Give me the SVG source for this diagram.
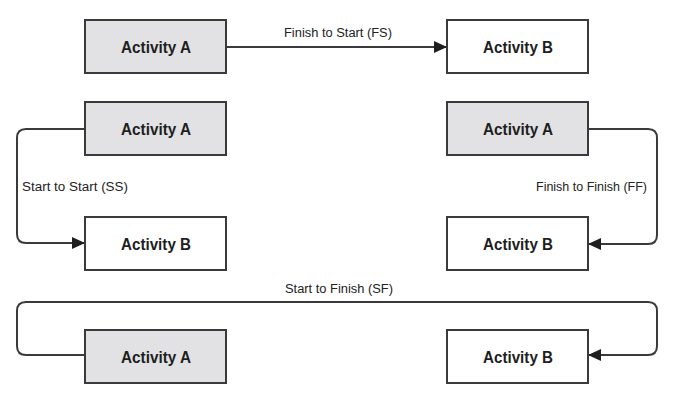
<svg xmlns="http://www.w3.org/2000/svg" width="686" height="404" viewBox="0 0 686 404">
<style>
.box{stroke:#3a3a3a;stroke-width:2}
.a{fill:#e2e2e4}
.b{fill:#ffffff}
.t{font-family:"Liberation Sans Narrow","Liberation Sans",Arial,sans-serif;font-weight:bold;font-size:17px;fill:#1e1e1e;text-anchor:middle}
.lbl{font-family:"Liberation Sans Narrow","Liberation Sans",Arial,sans-serif;font-size:12.5px;fill:#222}
.c{fill:none;stroke:#3a3a3a;stroke-width:2}
</style>
<defs>
<marker id="arr" markerUnits="userSpaceOnUse" markerWidth="14" markerHeight="13" refX="13" refY="6.5" orient="auto">
<path d="M0,0.5 L13,6.5 L0,12.5 z" fill="#1e1e1e"/>
</marker>
</defs>
<rect width="686" height="404" fill="#fff"/>
<g id="connectors">
<path class="c" d="M226,47 H447" marker-end="url(#arr)"/>
<path class="c" d="M85,129 H26 Q17,129 17,138 V234 Q17,243 26,243 H85" marker-end="url(#arr)"/>
<path class="c" d="M588,129 H648 Q657,129 657,138 V235 Q657,244 648,244 H588" marker-end="url(#arr)"/>
<path class="c" d="M85,355 H26 Q17,355 17,346 V311 Q17,302 26,302 H648 Q657,302 657,311 V346 Q657,355 648,355 H588" marker-end="url(#arr)"/>
<text class="lbl" x="338" y="37" text-anchor="middle" textLength="108" lengthAdjust="spacingAndGlyphs">Finish to Start (FS)</text>
<text class="lbl" x="22" y="191" textLength="106" lengthAdjust="spacingAndGlyphs">Start to Start (SS)</text>
<text class="lbl" x="647" y="191" text-anchor="end" textLength="111" lengthAdjust="spacingAndGlyphs">Finish to Finish (FF)</text>
<text class="lbl" x="339" y="293" text-anchor="middle" textLength="108" lengthAdjust="spacingAndGlyphs">Start to Finish (SF)</text>
</g>
<g id="fs-a"><rect class="box a" x="85" y="20" width="141" height="53"/><text class="t" x="156" y="52.5" textLength="70" lengthAdjust="spacingAndGlyphs">Activity A</text></g>
<g id="fs-b"><rect class="box b" x="447" y="20" width="141" height="53"/><text class="t" x="518" y="52.5" textLength="70" lengthAdjust="spacingAndGlyphs">Activity B</text></g>
<g id="ss-a"><rect class="box a" x="85" y="102" width="141" height="53"/><text class="t" x="156" y="134.5" textLength="70" lengthAdjust="spacingAndGlyphs">Activity A</text></g>
<g id="ss-b"><rect class="box b" x="85" y="217" width="141" height="53"/><text class="t" x="156" y="249.5" textLength="70" lengthAdjust="spacingAndGlyphs">Activity B</text></g>
<g id="ff-a"><rect class="box a" x="447" y="102" width="141" height="53"/><text class="t" x="518" y="134.5" textLength="70" lengthAdjust="spacingAndGlyphs">Activity A</text></g>
<g id="ff-b"><rect class="box b" x="447" y="217" width="141" height="53"/><text class="t" x="518" y="249.5" textLength="70" lengthAdjust="spacingAndGlyphs">Activity B</text></g>
<g id="sf-a"><rect class="box a" x="85" y="330" width="141" height="53"/><text class="t" x="156" y="362.5" textLength="70" lengthAdjust="spacingAndGlyphs">Activity A</text></g>
<g id="sf-b"><rect class="box b" x="447" y="330" width="141" height="53"/><text class="t" x="518" y="362.5" textLength="70" lengthAdjust="spacingAndGlyphs">Activity B</text></g>
</svg>
